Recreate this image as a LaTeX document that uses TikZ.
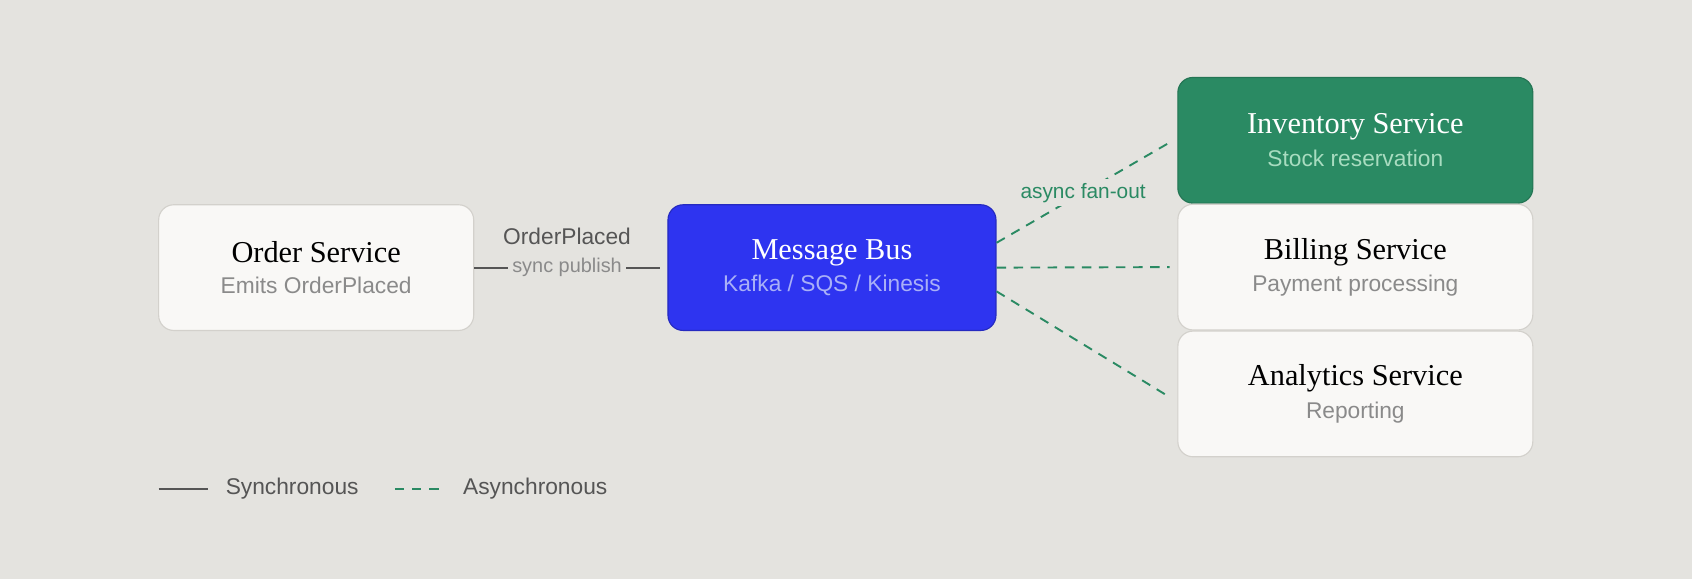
\documentclass[tikz,border=0pt]{standalone}
\usepackage{fontspec}
\setmainfont{Liberation Serif}
\setsansfont{Liberation Sans}
\usetikzlibrary{positioning}
\definecolor{bg}{HTML}{E4E3DF}
\definecolor{card}{HTML}{F9F8F6}
\definecolor{cardline}{HTML}{D3D1CC}
\definecolor{subgray}{HTML}{8A8A8A}
\definecolor{busblue}{HTML}{2E34F0}
\definecolor{bussub}{HTML}{A9B0F7}
\definecolor{invgreen}{HTML}{2A8A63}
\definecolor{invsub}{HTML}{A8DCC0}
\definecolor{linegray}{HTML}{555555}

\begin{document}
\begin{tikzpicture}[x=0.02cm,y=-0.02cm]

\tikzstyle{svc} = [rectangle, rounded corners=0.28cm, minimum height=2.33cm, minimum width=6.58cm, align=center, text centered, draw=cardline, fill=card, line width=0.6pt]
\tikzstyle{title} = [font=\fontsize{16}{19}\selectfont]
\tikzstyle{sync} = [draw=linegray, line width=1pt]
\tikzstyle{async} = [draw=invgreen, line width=1pt, dash pattern=on 5pt off 4pt]
\tikzstyle{lbl} = [fill=bg, inner sep=2pt, font=\sffamily\fontsize{11}{13}\selectfont]

\fill[bg] (0,0) rectangle (1568,537);
\useasboundingbox (0,0) rectangle (1568,537);

\node (order) [svc, minimum width=5.84cm] at (293,248) {{\fontsize{16}{19}\selectfont Order Service}\\[4pt]{\sffamily\fontsize{12}{14}\selectfont\color{subgray}Emits OrderPlaced}};
\node (bus) [svc, minimum width=6.08cm, fill=busblue, draw=busblue!80!black, text=white] at (771,248) {{\fontsize{16}{19}\selectfont Message Bus}\\[4pt]{\sffamily\fontsize{12}{14}\selectfont\color{bussub}Kafka / SQS / Kinesis}};
\node (inv) [svc, fill=invgreen, draw=invgreen!85!black, text=white] at (1256,130) {{\fontsize{16}{19}\selectfont Inventory Service}\\[4pt]{\sffamily\fontsize{12}{14}\selectfont\color{invsub}Stock reservation}};
\node (bill) [svc, below=0cm of inv] {{\fontsize{16}{19}\selectfont Billing Service}\\[4pt]{\sffamily\fontsize{12}{14}\selectfont\color{subgray}Payment processing}};
\node (ana) [svc, below=0cm of bill] {{\fontsize{16}{19}\selectfont Analytics Service}\\[4pt]{\sffamily\fontsize{12}{14}\selectfont\color{subgray}Reporting}};

% sync publish
\draw[sync] (order.east) -- node (pub) [lbl, text=subgray, font=\sffamily\fontsize{10.5}{12}\selectfont] {sync publish} ([xshift=-4pt]bus.west);
\node (evt) [font=\sffamily\fontsize{12}{14}\selectfont, text=linegray, above=1pt of pub] {OrderPlaced};

% fan-out
\draw[async] ([yshift=0.46cm]bus.east) -- node (fan) [lbl, text=invgreen, pos=0.5] {async fan-out} ([xshift=-0.14cm,yshift=-0.04cm]inv.west);
\draw[async] (bus.east) -- ([xshift=-4pt]bill.west);
\draw[async] ([yshift=-0.44cm]bus.east) -- ([xshift=-0.14cm,yshift=-0.06cm]ana.west);

% legend
\coordinate (s1) at (147,453);
\coordinate (s2) at (193,453);
\coordinate (a1) at (366,453);
\coordinate (a2) at (413,453);
\draw[sync] (s1) -- (s2);
\node (syn) [right=0.2cm of s2, font=\sffamily\fontsize{12}{14}\selectfont, text=linegray] {Synchronous};
\draw[async] (a1) -- (a2);
\node (asy) [right=0.2cm of a2, font=\sffamily\fontsize{12}{14}\selectfont, text=linegray] {Asynchronous};
\end{tikzpicture}
\end{document}
